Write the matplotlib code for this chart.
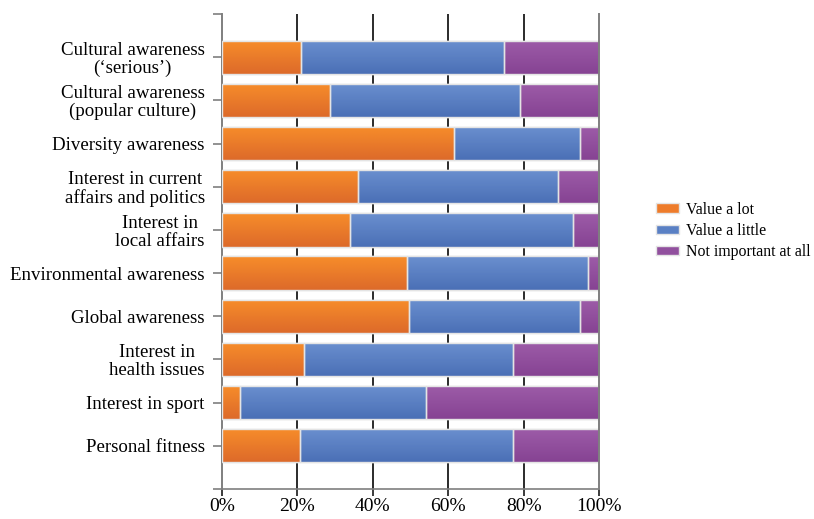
import matplotlib
matplotlib.use("Agg")
import matplotlib.pyplot as plt
import numpy as np
from matplotlib.colors import LinearSegmentedColormap

categories = [
    "Cultural awareness\n(\u2018serious\u2019)",
    "Cultural awareness\n(popular culture)",
    "Diversity awareness",
    "Interest in current\naffairs and politics",
    "Interest in\nlocal affairs",
    "Environmental awareness",
    "Global awareness",
    "Interest in\nhealth issues",
    "Interest in sport",
    "Personal fitness",
]
value_a_lot = [21.0, 28.6, 61.5, 36.0, 34.0, 49.0, 49.6, 21.8, 4.9, 20.8]
value_a_little = [53.9, 50.5, 33.5, 53.0, 59.0, 48.1, 45.4, 55.4, 49.2, 56.5]
not_important = [25.1, 20.9, 5.0, 11.0, 7.0, 2.9, 5.0, 22.8, 45.9, 22.7]
series_names = ["Value a lot", "Value a little", "Not important at all"]
xtick_values = [0, 20, 40, 60, 80, 100]
xtick_labels = ["0%", "20%", "40%", "60%", "80%", "100%"]

plt.rcParams['font.family'] = ['Liberation Serif', 'DejaVu Serif']

fig = plt.figure(figsize=(8.14, 5.19), dpi=100)
ax = fig.add_axes([222/814, 1-489/519, (599-222)/814, (489-14)/519])

# gradient colours (top, bottom)
grads = [("#F78D2A", "#DD6A2A"), ("#6B90CF", "#4A6FB6"), ("#9D5CA8", "#864393")]
solid = ["#EE7C2B", "#5A80C4", "#91509E"]

y = np.arange(len(categories))
left = np.zeros(len(categories))
series = [value_a_lot, value_a_little, not_important]
grad_img = np.linspace(0, 1, 64).reshape(-1, 1)
for vals, (c_top, c_bot), sc, name in zip(series, grads, solid, series_names):
    bars = ax.barh(y, vals, left=left, height=0.77, color=sc,
                   edgecolor="#E4E4E4", linewidth=1.0, label=name, zorder=3)
    cmap = LinearSegmentedColormap.from_list("g", [c_top, c_bot])
    for b in bars:
        x0, y0 = b.get_x(), b.get_y()
        w, h = b.get_width(), b.get_height()
        im = ax.imshow(grad_img, cmap=cmap, aspect='auto',
                       extent=[x0, x0 + w, y0 + h, y0], zorder=3.5,
                       interpolation='bilinear')
        im.set_clip_path(b)
        ax.add_patch(plt.Rectangle((x0, y0), w, h, fill=False,
                                   edgecolor="#E4E4E4", linewidth=1.0, zorder=4))
    left = left + np.array(vals)

ax.set_xlim(0, 100)
ax.set_ylim(10, -1)

for xv in xtick_values[1:-1]:
    ax.axvline(xv, color="#1A1A1A", linewidth=1.3, zorder=1)

ax.set_xticks(xtick_values)
ax.set_xticklabels(xtick_labels, fontsize=14)
ax.tick_params(axis='x', direction='out', length=5, width=1.2, color="#1A1A1A", pad=1.5)

ytick_pos = np.arange(-1, len(categories) + 1)
ax.set_yticks(ytick_pos)
ax.set_yticklabels([""] + categories + [""], fontsize=13.6, linespacing=1.05)
for lbl in ax.get_yticklabels():
    lbl.set_multialignment('center')
ax.tick_params(axis='y', direction='out', length=6.5, width=1.2, color="#7F7F7F", pad=6)

ax.spines["top"].set_visible(False)
ax.spines["left"].set_color("#7F7F7F")
ax.spines["left"].set_linewidth(1.4)
ax.spines["bottom"].set_color("#7F7F7F")
ax.spines["bottom"].set_linewidth(1.2)
ax.spines["right"].set_color("#7F7F7F")
ax.spines["right"].set_linewidth(1.4)
ax.spines["right"].set_zorder(5)

handles, labels = ax.get_legend_handles_labels()
leg = fig.legend(handles, labels, loc='center left', bbox_to_anchor=(656/814, 1-231/519),
                 frameon=False, fontsize=11.4, handlelength=1.45, handleheight=0.55,
                 handletextpad=0.45, labelspacing=0.33, borderpad=0, borderaxespad=0)
for h in leg.legend_handles:
    h.set_edgecolor("#E4E4E4")

fig.savefig("out.png", dpi=100)
